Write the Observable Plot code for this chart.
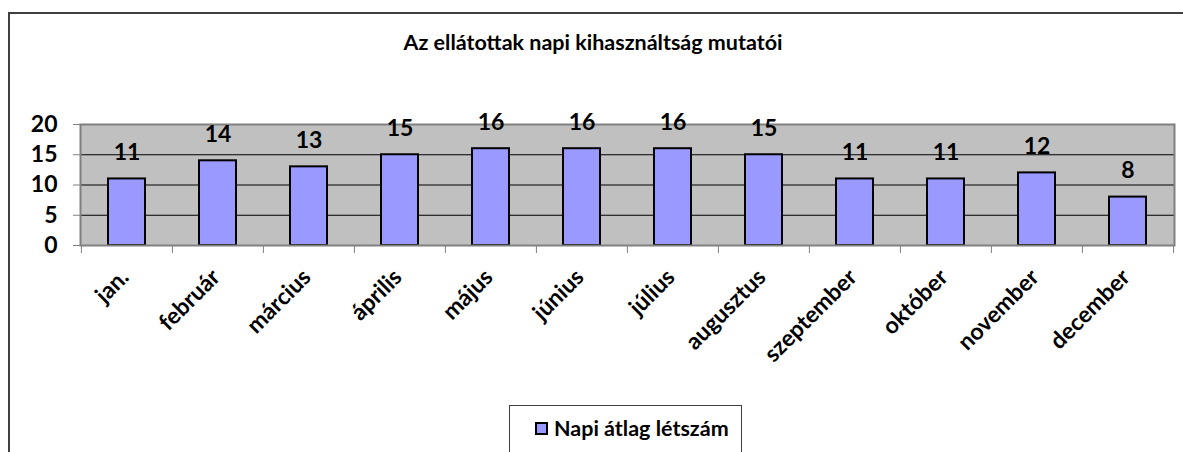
<!DOCTYPE html>
<html><head><meta charset="utf-8">
<script src="https://cdn.jsdelivr.net/npm/d3@7"></script>
<script src="https://cdn.jsdelivr.net/npm/@observablehq/plot@0.6"></script>
<style>
body{margin:0;background:#fff;font-family:Lato,"Open Sans",sans-serif;}
#wrap{position:relative;width:1183px;height:452px;overflow:hidden;background:#fff;}
#wrap svg{position:absolute;left:0;top:0;}
#border{position:absolute;left:8px;top:12px;width:1300px;height:600px;border-left:2px solid #404040;border-top:2px solid #404040;pointer-events:none;}
#title{position:absolute;left:9px;width:1168px;top:29px;text-align:center;font-weight:bold;font-size:21.5px;line-height:26px;color:#000;}
#legend{position:absolute;left:509px;top:405px;width:233px;height:80px;border:1px solid #404040;box-sizing:border-box;background:#fff;}
#legend .sw{position:absolute;left:25px;top:16px;width:13px;height:13px;background:#9999ff;border:2px solid #000;box-sizing:border-box;}
#legend .lt{position:absolute;left:44px;top:9px;font-size:21.5px;font-weight:bold;line-height:26px;white-space:nowrap;}
</style>
</head><body>
<div id="wrap">
  <div id="title"></div>
  <div id="legend"><div class="sw"></div><div class="lt"></div></div>
  <div id="border"></div>
</div>
<script>
const title = "Az ellátottak napi kihasználtság mutatói";
const seriesName = "Napi átlag létszám";
const months = ["jan.","február","március","április","május","június","július","augusztus","szeptember","október","november","december"];
const values = [11,14,13,15,16,16,16,15,11,11,12,8];
const yTicks = [0,5,10,15,20];

const data = months.map((m,i)=>({month:m, value:values[i]}));

const W = 1183, H = 452, mL = 80, mR = 9, mT = 124, mB = 207;
const step = (W - mL - mR) / months.length;

document.getElementById("title").textContent = title;
document.querySelector("#legend .lt").textContent = seriesName;

const chart = Plot.plot({
  width: W, height: H,
  marginLeft: mL, marginRight: mR, marginTop: mT, marginBottom: mB,
  style: {background: "transparent", fontFamily: "Lato, 'Open Sans', sans-serif", color: "#000"},
  x: {domain: months, paddingInner: 0.595, paddingOuter: 0.2975, axis: null},
  y: {domain: [0,20], axis: null},
  marks: [
    Plot.frame({fill: "#c0c0c0", stroke: "none"}),
    Plot.gridY(yTicks.filter(d=>d>0), {stroke: "#000", strokeOpacity: 1, strokeWidth: 1}),
    Plot.barY(data, {x: "month", y: "value", fill: "#9999ff", stroke: "#000", strokeWidth: 2}),
    Plot.frame({stroke: "#808080", strokeWidth: 2}),
    Plot.axisY({ticks: yTicks, tickSize: 7, tickPadding: 16, fontSize: 23, fontWeight: "bold", stroke: "#808080", fill: "#000", label: null}),
    Plot.axisX({ticks: months, tickSize: 8, dx: -step/2, tickFormat: () => "", stroke: "#808080", label: null}),
    Plot.axisX({ticks: [months[months.length-1]], tickSize: 8, dx: step/2, tickFormat: () => "", stroke: "#808080", label: null}),
    Plot.text(months, {x: d=>d, frameAnchor: "bottom", text: d=>d, rotate: -45, textAnchor: "end", lineAnchor: "middle", dx: -2, dy: 28, fontSize: 23, fontWeight: "bold", fill: "#000"}),
    Plot.text(data, {x: "month", y: "value", text: d=>String(d.value), dy: -26, fontSize: 23, fontWeight: "bold", fill: "#000"})
  ]
});
document.getElementById("wrap").insertBefore(chart, document.getElementById("title"));
</script>
</body></html>
